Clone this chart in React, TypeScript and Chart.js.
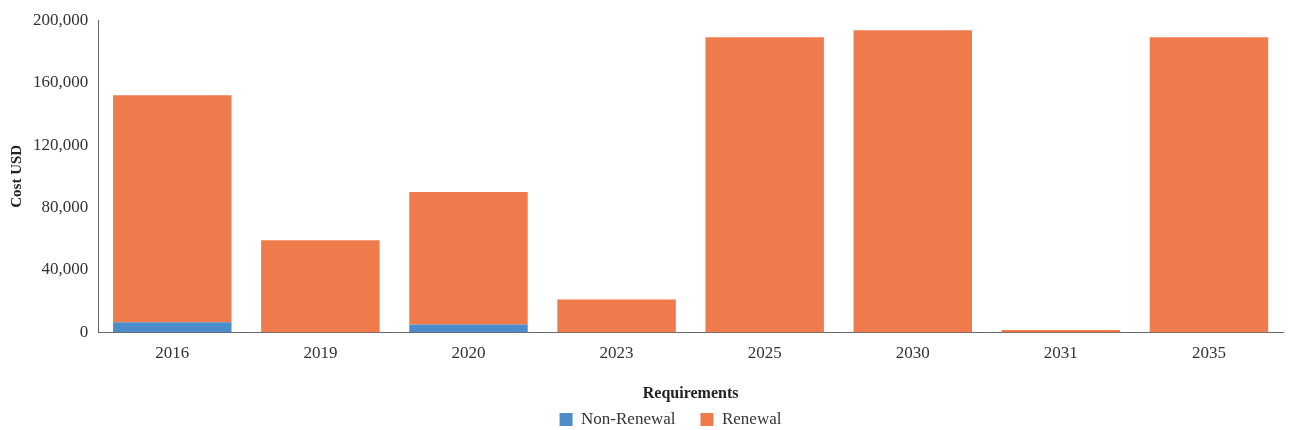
import React, { useEffect, useRef } from "react";
import { Chart, registerables } from "chart.js";

Chart.register(...registerables);

const categories = ["2016", "2019", "2020", "2023", "2025", "2030", "2031", "2035"];
const nonRenewal = [6500, 0, 5000, 0, 0, 0, 0, 0];
const renewal = [145500, 59000, 85000, 21000, 189000, 193500, 1500, 189000];
const yTicks = [0, 40000, 80000, 120000, 160000, 200000];

const FONT = "'Liberation Serif', 'DejaVu Serif', serif";

const legendShift = {
  id: "legendShift",
  afterLayout(chart: any) {
    const lg = chart.legend;
    if (lg) {
      lg.left += 24;
      lg.right += 24;
      lg.top -= 17;
      lg.bottom -= 17;
    }
  },
};

export default function App() {
  const ref = useRef<HTMLCanvasElement | null>(null);
  useEffect(() => {
    if (!ref.current) return;
    const chart = new Chart(ref.current, {
      type: "bar",
      data: {
        labels: categories,
        datasets: [
          { label: "Non-Renewal", data: nonRenewal, backgroundColor: "#4D8CCB", borderWidth: 0, categoryPercentage: 1, barPercentage: 0.8 },
          { label: "Renewal", data: renewal, backgroundColor: "#EF7A4B", borderWidth: 0, categoryPercentage: 1, barPercentage: 0.8 },
        ],
      },
      plugins: [legendShift],
      options: {
        animation: false,
        responsive: false,
        maintainAspectRatio: false,
        layout: { padding: { top: 9, right: 6, left: 10, bottom: -25 } },
        plugins: {
          legend: {
            position: "bottom",
            labels: { font: { family: FONT, size: 17 }, color: "#333", boxWidth: 13, boxHeight: 13, padding: 25 },
          },
          tooltip: { enabled: false },
        },
        scales: {
          x: {
            stacked: true,
            grid: { display: false, drawTicks: false },
            border: { color: "#666", width: 1 },
            ticks: { font: { family: FONT, size: 17 }, color: "#333", padding: 11 },
            title: { display: true, text: "Requirements", font: { family: FONT, size: 16, weight: "bold" }, color: "#222", padding: { top: 9, bottom: 0 } },
          },
          y: {
            stacked: true,
            min: 0,
            max: 200000,
            afterBuildTicks: (axis: any) => {
              axis.ticks = yTicks.map((v) => ({ value: v }));
            },
            grid: { display: false, drawTicks: false },
            border: { color: "#666", width: 1 },
            ticks: {
              font: { family: FONT, size: 17 },
              color: "#333",
              padding: 10,
              callback: (v: any) => Number(v).toLocaleString("en-US"),
            },
            title: { display: true, text: "Cost USD", font: { family: FONT, size: 15, weight: "bold", lineHeight: 1 }, color: "#222", padding: { top: 0, bottom: -2 } },
          },
        },
      },
    });
    return () => chart.destroy();
  }, []);
  return (
    <div style={{ position: "absolute", left: 0, top: 0, width: 1289, height: 430, background: "#fff" }}>
      <canvas ref={ref} width={1289} height={430} />
    </div>
  );
}
